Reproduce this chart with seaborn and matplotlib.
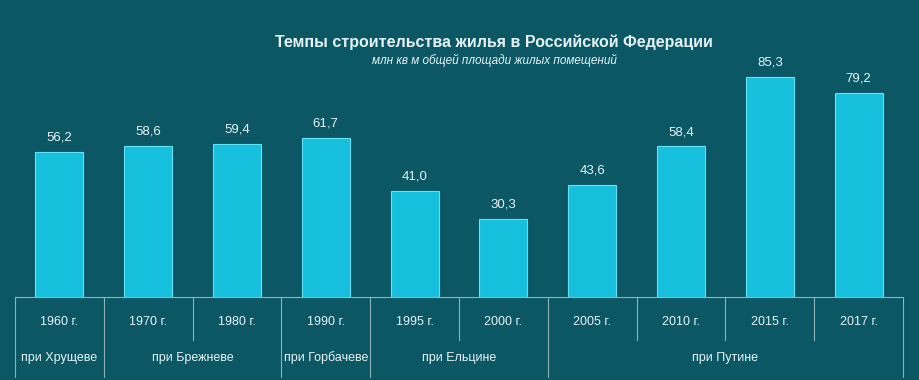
import matplotlib
matplotlib.use("Agg")
import matplotlib.pyplot as plt
import seaborn as sns
import pandas as pd

## DATA
years = ["1960 г.", "1970 г.", "1980 г.", "1990 г.", "1995 г.",
         "2000 г.", "2005 г.", "2010 г.", "2015 г.", "2017 г."]
values = [56.2, 58.6, 59.4, 61.7, 41.0, 30.3, 43.6, 58.4, 85.3, 79.2]
rulers = ["при Хрущеве", "при Брежневе", "при Горбачеве", "при Ельцине", "при Путине"]
ruler_span = [1, 2, 1, 2, 4]

df = pd.DataFrame({"year": years, "value": values})

bg = "#0c5764"
bar_col = "#16bfdc"
txt = "#e6f3f5"
line_col = "#8fb2b8"

sns.set_style("white")
plt.rcParams["font.family"] = ["Liberation Sans Narrow", "Liberation Sans", "DejaVu Sans"]

fig = plt.figure(figsize=(9.19, 3.80), dpi=100, facecolor=bg)
ax = fig.add_axes([15 / 919, 83 / 380, 888 / 919, 258 / 380])
ax.set_facecolor(bg)

sns.barplot(data=df, x="year", y="value", color=bar_col, width=0.54,
            edgecolor="#62e2f4", linewidth=0.8, saturation=1, ax=ax)
ax.set_ylim(0, 100)
ax.set_xlim(-0.5, len(years) - 0.5)
ax.set_xlabel("")
ax.set_ylabel("")
ax.set_xticks([])
ax.set_yticks([])
for s in ax.spines.values():
    s.set_visible(False)

# value labels
for i, v in enumerate(values):
    ax.text(i, v + 3.2, f"{v:.1f}".replace(".", ","), ha="center", va="bottom",
            color=txt, fontsize=9.5)

# table under the axis
trans = ax.get_xaxis_transform()
y_top, y_mid, y_bot = 0.0, -43 / 258, -80 / 258
ax.plot([-0.5, len(years) - 0.5], [y_top, y_top], color=line_col, lw=0.8,
        transform=trans, clip_on=False)
for i, y in enumerate(years):
    ax.text(i, -25 / 258, y, ha="center", va="center", color=txt, fontsize=9,
            transform=trans, clip_on=False)

bounds = [0]
for n in ruler_span:
    bounds.append(bounds[-1] + n)
for k in range(len(years) + 1):
    bottom = y_bot if k in bounds else y_mid
    ax.plot([k - 0.5, k - 0.5], [y_top, bottom], color=line_col, lw=0.8,
            transform=trans, clip_on=False)
for j, r in enumerate(rulers):
    center = (bounds[j] + bounds[j + 1]) / 2 - 0.5
    ax.text(center, -61 / 258, r, ha="center", va="center", color=txt,
            fontsize=9, transform=trans, clip_on=False)

# titles
fig.text(494 / 919, 1 - 42 / 380, "Темпы строительства жилья в Российской Федерации",
         ha="center", va="center", color=txt, fontsize=11.5, fontweight="bold")
fig.text(494 / 919, 1 - 60 / 380, "млн кв м общей площади жилых помещений",
         ha="center", va="center", color=txt, fontsize=8.5, style="italic")

fig.savefig("out.png", dpi=100, facecolor=bg)
